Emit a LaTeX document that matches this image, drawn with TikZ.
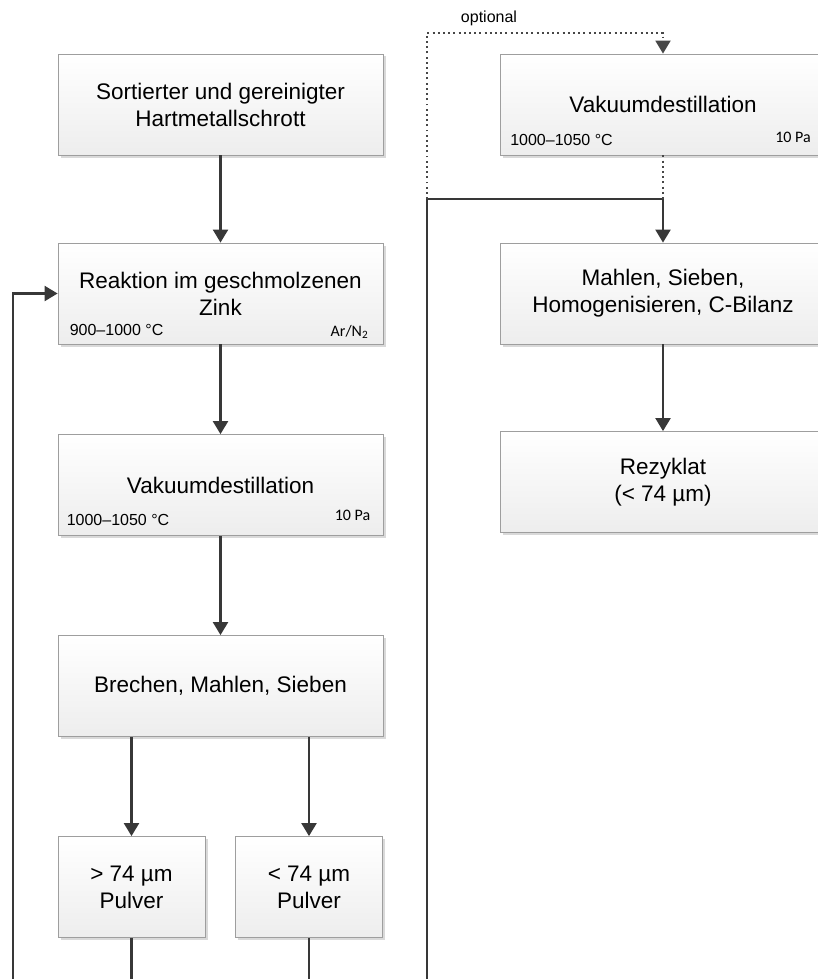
\documentclass[tikz,border=0pt]{standalone}
\usepackage{fontspec}
\setmainfont{Liberation Sans}
\newfontfamily\calfont{Carlito}
\usetikzlibrary{arrows.meta,shadows}

\begin{document}
\begin{tikzpicture}[x=1pt,y=-1pt,
  box/.style={draw=black!38,line width=0.8pt,top color=white,bottom color=black!7,
              minimum width=325pt,minimum height=101pt,inner sep=0pt,align=center,
              font=\fontsize{22.5}{27}\selectfont,
              drop shadow={shadow xshift=2.5pt,shadow yshift=-2.5pt,fill=black!15,opacity=1}},
  smallbox/.style={box,minimum width=147pt},
  note/.style={inner sep=0pt,font=\fontsize{16}{19}\selectfont},
  unit/.style={inner sep=0pt,font=\calfont\fontsize{16}{19}\selectfont},
  tip/.style={-{Triangle[length=13pt,width=15pt]}},
  arr/.style={tip,line width=2.2pt,black!78},
  optline/.style={line width=1.9pt,black!72,dash pattern=on 1.9pt off 3.3pt}]
  \useasboundingbox (0,0) rectangle (818,979);
  \clip (0,0) rectangle (818,979);
  % main column
  \node[box] (scrap) at (220.5,104.5) {Sortierter und gereinigter\\Hartmetallschrott};
  \node[box] (zinc)  at (220.5,293.5) {Reaktion im geschmolzenen\\Zink};
  \node[box] (vac)   at (220.5,485)   {Vakuumdestillation};
  \node[box] (mill)  at (220.5,686)   {Brechen, Mahlen, Sieben};
  \node[smallbox] (coarse) at (131.5,887) {> 74 µm\\Pulver};
  \node[smallbox] (fine)   at (309,887)   {< 74 µm\\Pulver};
  % right column
  \node[box] (vacopt)  at (663,104.5) {Vakuumdestillation};
  \node[box] (final)   at (663,293.5) {Mahlen, Sieben,\\Homogenisieren, C-Bilanz};
  \node[box] (product) at (663,482)   {Rezyklat\\(< 74 µm)};
  % process conditions
  \node[note,anchor=base west] (zinctemp) at ([shift={(12,-9)}]zinc.south west) {900--1000 °C};
  \node[unit,anchor=base east] (zincgas)  at ([shift={(-15,-8)}]zinc.south east) {Ar/N\textsubscript{2}};
  \node[note,anchor=base west] (vactemp)  at ([shift={(9,-10)}]vac.south west) {1000--1050 °C};
  \node[unit,anchor=base east] (vacpres)  at ([shift={(-13,-15)}]vac.south east) {10 Pa};
  \node[note,anchor=base west] (opttemp)  at ([shift={(10,-10)}]vacopt.south west) {1000--1050 °C};
  \node[unit,anchor=base east] (optpres)  at ([shift={(-15,-13)}]vacopt.south east) {10 Pa};
  \node[note,anchor=base] (optlabel) at (489,23) {optional};
  % routing points
  \coordinate (low)  at (0,995);
  \coordinate (back) at (13,0);
  \coordinate (rail) at (427,199);
  \coordinate (join) at (663,199);
  \coordinate (top)  at (0,33);
  % connectors
  \draw[arr] (scrap) -- (zinc);
  \draw[arr] (zinc) -- (vac);
  \draw[arr] (vac) -- (mill);
  \draw[arr] (mill.south -| coarse) -- (coarse);
  \draw[arr] (mill.south -| fine) -- (fine);
  \draw[arr] (coarse) -- (coarse |- low) -| (back |- zinc) -- (zinc);
  \draw[arr] (fine) -- (fine |- low) -| (rail) -- (join) -- (final);
  \draw[arr] (final) -- (product);
  \draw[optline,tip] (rail) -- (rail |- top) -| (vacopt);
  \draw[optline] (vacopt) -- (join);
\end{tikzpicture}
\end{document}
